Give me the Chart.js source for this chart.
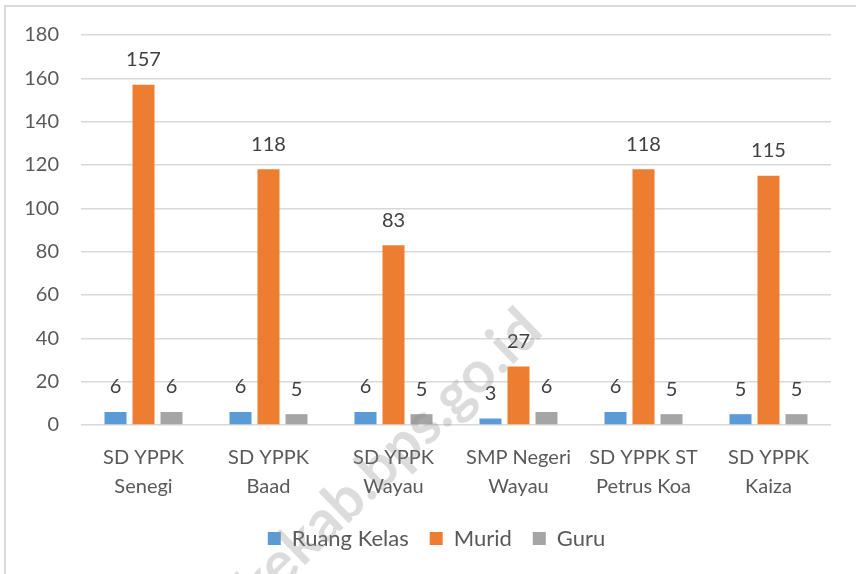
<!DOCTYPE html>
<html>
<head>
<meta charset="utf-8">
<script src="https://cdn.jsdelivr.net/npm/chart.js@4.4.1/dist/chart.umd.min.js"></script>
<style>
  html, body { margin: 0; padding: 0; background: #fff; }
  canvas { display: block; }
</style>
</head>
<body>
<canvas id="chart" width="856" height="574"></canvas>
<script>
// Data
const schools = [
  ["SD YPPK", "Senegi"],
  ["SD YPPK", "Baad"],
  ["SD YPPK", "Wayau"],
  ["SMP Negeri", "Wayau"],
  ["SD YPPK ST", "Petrus Koa"],
  ["SD YPPK", "Kaiza"],
];
const ruangKelas = [6, 6, 6, 3, 6, 5];
const murid = [157, 118, 83, 27, 118, 115];
const guru = [6, 5, 5, 6, 5, 5];
const yTicks = [0, 20, 40, 60, 80, 100, 120, 140, 160, 180];

const FONT = "Lato, 'Open Sans', sans-serif";
const COLOR_BLUE = "#5b9bd5";
const COLOR_ORANGE = "#ed7d31";
const COLOR_GREY = "#a5a5a5";
const COLOR_GRID = "#d9d9d9";
const COLOR_TICK = "#595959";
const COLOR_LABEL = "#404040";

// value labels above every bar
const valueLabels = {
  id: "valueLabels",
  afterDatasetsDraw(chart) {
    const ctx = chart.ctx;
    ctx.save();
    ctx.font = `20px ${FONT}`;
    ctx.fillStyle = COLOR_LABEL;
    ctx.textAlign = "center";
    ctx.textBaseline = "middle";
    chart.data.datasets.forEach((ds, i) => {
      chart.getDatasetMeta(i).data.forEach((bar, j) => {
        ctx.fillText(String(ds.data[j]), bar.x, bar.y - 25);
      });
    });
    ctx.restore();
  },
};

// legend sits centred under the whole frame, not the chart box
const legendShift = {
  id: "legendShift",
  afterLayout(chart) {
    if (chart.legend) {
      chart.legend.left += 21;
      chart.legend.right += 21;
    }
  },
};

// outer frame + watermark
const frame = {
  id: "frame",
  beforeDraw(chart) {
    const ctx = chart.ctx;
    ctx.save();
    ctx.strokeStyle = COLOR_GRID;
    ctx.lineWidth = 2;
    ctx.strokeRect(5, 6, 900, 700);
    ctx.restore();
  },
  afterDraw(chart) {
    const ctx = chart.ctx;
    ctx.save();
    ctx.translate(532, 320);
    ctx.rotate(-44 * Math.PI / 180);
    ctx.font = `bold 58px ${FONT}`;
    ctx.fillStyle = "rgba(140, 140, 140, 0.3)";
    ctx.textAlign = "right";
    ctx.textBaseline = "middle";
    ctx.fillText("meraukekab.bps.go.id", 0, 0);
    ctx.restore();
  },
};

new Chart(document.getElementById("chart"), {
  type: "bar",
  data: {
    labels: schools,
    datasets: [
      { label: "Ruang Kelas", data: ruangKelas, backgroundColor: COLOR_BLUE },
      { label: "Murid", data: murid, backgroundColor: COLOR_ORANGE },
      { label: "Guru", data: guru, backgroundColor: COLOR_GREY },
    ],
  },
  options: {
    responsive: false,
    animation: false,
    categoryPercentage: 0.672,
    barPercentage: 0.786,
    layout: { padding: { top: 35, right: 25, bottom: 14.5, left: 0 } },
    scales: {
      x: {
        grid: { display: false, drawTicks: false },
        border: { display: false },
        ticks: {
          color: COLOR_TICK,
          font: { family: FONT, size: 20, lineHeight: 1.45 },
          padding: 18,
          maxRotation: 0,
          autoSkip: false,
        },
        afterFit: (scale) => { scale.height = 81.5; },
      },
      y: {
        min: 0,
        max: 180,
        afterBuildTicks: (scale) => {
          scale.ticks = yTicks.map((v) => ({ value: v }));
        },
        grid: { color: COLOR_GRID, lineWidth: 1.5, drawTicks: false },
        border: { display: false },
        ticks: {
          color: COLOR_TICK,
          font: { family: FONT, size: 20 },
          padding: 22,
        },
        afterFit: (scale) => { scale.width = 81; },
      },
    },
    plugins: {
      legend: {
        position: "bottom",
        labels: {
          color: COLOR_TICK,
          font: { family: FONT, size: 22 },
          boxWidth: 13,
          boxHeight: 13,
          padding: 21,
        },
      },
      tooltip: { enabled: false },
    },
  },
  plugins: [valueLabels, legendShift, frame],
});
</script>
</body>
</html>
